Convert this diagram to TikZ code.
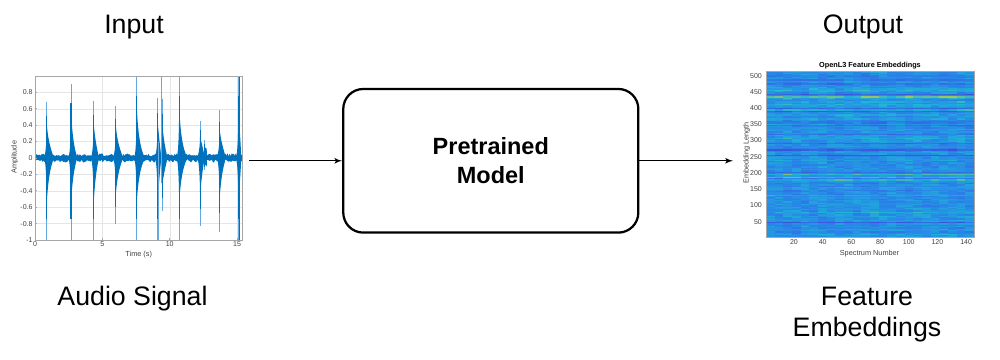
\documentclass[tikz,border=0pt]{standalone}
\usepackage{fontspec}
\setmainfont{Liberation Sans}
\usepackage{tikz}
\usetikzlibrary{arrows,positioning}
\definecolor{wblue}{RGB}{0,114,189}
\definecolor{wlight}{RGB}{100,170,225}
\definecolor{hmdark}{RGB}{60,80,218}
\definecolor{hmmid}{RGB}{40,135,232}
\definecolor{hmcyan}{RGB}{30,182,215}
\definecolor{hmyellow}{RGB}{160,200,85}

\begin{document}
\begin{tikzpicture}[x=0.025cm, y=-0.025cm, >=latex',
    heading/.style={font=\fontsize{19}{21.5}\selectfont, inner sep=0pt, align=center},
    modelbox/.style={draw, line width=1.6pt, rounded corners=0.5cm, minimum width=7.375cm, minimum height=3.59cm, align=center, font=\bfseries\fontsize{16.7}{20.8}\selectfont},
    flow/.style={->, line width=0.9pt},
    ticklbl/.style={font=\fontsize{5}{6}\selectfont, text=black!75, inner sep=0.6pt},
    axlbl/.style={font=\fontsize{5.2}{6}\selectfont, text=black!75, inner sep=0pt},
    axbox/.style={draw=black!35, line width=0.4pt},
    gridline/.style={draw=black!10, line width=0.3pt},
    wave/.style={fill=wblue},
    spike/.style={fill=wblue},
    thinspike/.style={fill=wlight}]
    \useasboundingbox (0,0) rectangle (1000,360);
    % Labels
    \node[heading, anchor=base] (inlbl) at (134, 34) {Input};
    \node[heading, anchor=base] (outlbl) at (863, 34) {Output};
    \node[heading, anchor=base] (audiolbl) at (132.5, 305) {Audio Signal};
    \node[heading, anchor=base] (featlbl) at (867, 336) {Feature\\Embeddings};
    % Pretrained model
    \node[modelbox] (model) at (490.8, 160.8) {Pretrained\\Model};
    % Audio signal plot (time in s, amplitude)
    \begin{scope}[shift={(35,157.95)}, x=0.33675cm, y=2.051cm]
        \foreach \t in {0,5,10,15} \draw[gridline] (\t,-1) -- (\t,1);
        \foreach \a in {-0.8,-0.6,-0.4,-0.2,0,0.2,0.4,0.6,0.8} \draw[gridline] (0,\a) -- (15.37,\a);
        \begin{scope}
            \clip (0,-1) rectangle (15.37,1);
            \pgfmathsetseed{11}
            \fill[wave] plot[domain=0:15.37, samples=200] (\x,{0.02+0.035*rnd}) -- plot[domain=15.37:0, samples=200] (\x,{-0.02-0.035*rnd}) -- cycle;
            \foreach \t/\up/\dn/\len in {0.87/0.68/-1/0.45, 2.67/0.9/-1/0.4, 4.35/0.7/-1/0.35, 6.0/0.63/-0.8/0.45, 7.55/1/-1/0.5, 9.1/0.73/-1/0.25, 9.43/0.72/-0.65/0.35, 10.7/1/-1/0.5, 12.25/0.45/-0.83/0.3, 12.6/0.22/-0.15/0.15, 13.7/0.58/-0.9/0.4, 15.1/1/-1/0.2} {
                \fill[thinspike] ({\t-0.035},\dn) rectangle ({\t+0.035},\up);
                \fill[wave] ({\t-0.14},0.04) .. controls ({\t-0.06},0.1) and ({\t-0.015},{0.3*\up}) .. (\t,{0.62*\up})
                    .. controls ({\t+0.07},{0.42*\up}) and ({\t+0.16},0.18) .. ({\t+\len},0.04) -- ({\t+\len},-0.04)
                    .. controls ({\t+0.16},-0.18) and ({\t+0.07},{0.38*\dn}) .. (\t,{0.55*\dn})
                    .. controls ({\t-0.015},{0.3*\dn}) and ({\t-0.06},-0.1) .. ({\t-0.14},-0.04) -- cycle;
                \fill[spike] ({\t-0.04},{0.75*\dn}) rectangle ({\t+0.04},{0.75*\up});
            }
            \fill[thinspike] (9.165,-1) rectangle (9.235,0.2);
            \fill[thinspike] (9.315,-0.3) rectangle (9.385,1);
            \fill[spike] (15.16,-1) rectangle (15.24,1);
        \end{scope}
        \draw[axbox] (0,-1) rectangle (15.37,1);
        \foreach \a [count=\i] in {0.8,0.6,0.4,0.2,0,-0.2,-0.4,-0.6,-0.8,-1} {
            \draw[axbox] (0,\a) -- ++(0.15,0);
            \node[ticklbl, anchor=east] (ay\i) at (-0.1,\a) {\a};
        }
        \foreach \t [count=\i] in {0,5,10,15} {
            \draw[axbox] (\t,-1) -- ++(0,0.03);
            \node[ticklbl, anchor=north] (ax\i) at (\t,-1.01) {\t};
        }
        \node[axlbl, rotate=90] (amp) at (-1.5,0.01) {Amplitude};
        \node[axlbl] (time) at (7.7,-1.18) {Time (s)};
    \end{scope}
    % Feature embeddings heat map
    \begin{scope}
        \clip (766,71.6) rectangle (974,237.7);
        \pgfmathsetseed{5}
        \foreach \r in {0,...,127} {
            \pgfmathsetmacro\rr{rand}
            \pgfmathsetmacro\rv{0.5+0.38*\rr*\rr*\rr}
            \foreach \c in {0,...,23} {
                \pgfmathsetmacro\v{\rv+0.12*rand+0.05*sin(\c*75+\r*13)}
                \pgfmathtruncatemacro\pa{100*min(1,max(0,\v/0.45))}
                \pgfmathtruncatemacro\pb{100*min(1,max(0,(\v-0.45)/0.3))}
                \pgfmathtruncatemacro\pc{100*min(1,max(0,(\v-0.75)/0.25))}
                \fill[hmyellow!\pc!hmcyan!\pb!hmmid!\pa!hmdark] (766+\c*8.667,237.7-\r*1.2977) rectangle ++(8.8,-1.4);
            }
        }
    \end{scope}
    \draw[axbox] (766,71.6) rectangle (974,237.7);
    \node[axlbl, font=\bfseries\fontsize{5.2}{6}\selectfont, text=black] (hmtitle) at (870, 66) {OpenL3 Feature Embeddings};
    \foreach \e [count=\i] in {50,100,...,500}
        \node[ticklbl, anchor=east] (hy\i) at (763, {237.7-(\e-0.5)*0.3244}) {\e};
    \foreach \s [count=\i] in {20,40,...,140}
        \node[ticklbl, anchor=north] (hx\i) at ({766+(\s-0.5)*1.4345}, 238) {\s};
    \node[axlbl, rotate=90] (emblen) at (746.7, 153) {Embedding Length};
    \node[axlbl] (specnum) at (869.5, 253.5) {Spectrum Number};
    % Arrows
    \coordinate (audioout) at (249, 160.8);
    \coordinate (featin) at (733, 160.8);
    \draw[flow] (audioout) -- (model);
    \draw[flow] (model) -- (featin);
\end{tikzpicture}
\end{document}
